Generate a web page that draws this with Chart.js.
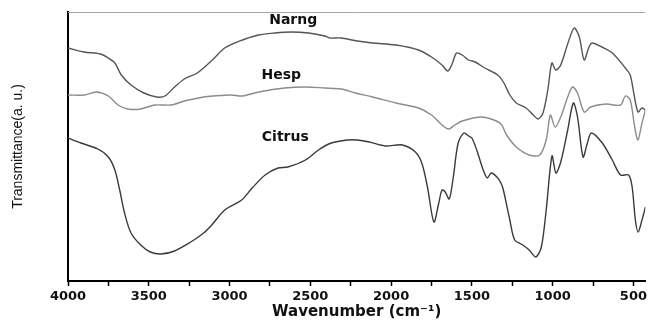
<!DOCTYPE html>
<html>
<head>
<meta charset="utf-8">
<script src="https://cdn.jsdelivr.net/npm/chart.js@4/dist/chart.umd.min.js"></script>
<style>
	html, body { margin: 0; padding: 0; background: #fff; }
	#wrap { width: 650px; height: 322px; position: relative; }
</style>
</head>
<body>
<div id="wrap"><canvas id="chart"></canvas></div>
<script>
// wavenumber (cm-1) and transmittance (a.u.)
const narngWn = [4000, 3900, 3800, 3750, 3710, 3670, 3610, 3530, 3450, 3400, 3340, 3280, 3200, 3100, 3030, 2920, 2820, 2720, 2620, 2510, 2410, 2380, 2310, 2210, 2115, 1970, 1830, 1750, 1685, 1650, 1625, 1595, 1560, 1520, 1480, 1420, 1340, 1305, 1265, 1225, 1165, 1120, 1090, 1060, 1030, 1005, 980, 950, 905, 867, 835, 805, 775, 755, 695, 630, 550, 520, 498, 472, 447, 426];
const narngT = [233, 229, 227, 223, 218, 206, 196, 188, 184, 185, 194, 202, 208, 222, 233, 241, 246, 248, 249, 248, 245, 243, 243, 240, 238, 236, 231, 224, 216, 210, 216, 228, 226, 221, 219, 213, 206, 199, 186, 178, 173, 166, 162, 168, 191, 218, 211, 216, 238, 253, 244, 221, 234, 238, 234, 228, 213, 206, 188, 169, 173, 171];

const hespWn = [4000, 3900, 3825, 3750, 3690, 3630, 3550, 3465, 3360, 3280, 3160, 3100, 2990, 2920, 2820, 2660, 2530, 2410, 2310, 2220, 2115, 1970, 1830, 1750, 1685, 1645, 1605, 1560, 1450, 1380, 1320, 1285, 1225, 1145, 1080, 1040, 1014, 985, 950, 907, 877, 846, 805, 765, 670, 580, 550, 520, 492, 472, 447, 426];
const hespT = [186, 186, 189, 185, 176, 172, 172, 176, 176, 180, 184, 185, 186, 185, 189, 193, 194, 193, 192, 188, 184, 178, 173, 166, 156, 152, 156, 160, 164, 162, 157, 146, 134, 126, 126, 141, 166, 154, 164, 184, 194, 188, 169, 174, 177, 176, 185, 181, 154, 141, 158, 171];

const citrusWn = [4000, 3920, 3815, 3750, 3710, 3680, 3650, 3610, 3550, 3490, 3425, 3340, 3240, 3160, 3110, 3030, 2925, 2860, 2780, 2700, 2640, 2530, 2450, 2370, 2270, 2210, 2135, 2035, 1930, 1850, 1810, 1775, 1735, 1705, 1685, 1665, 1640, 1615, 1585, 1550, 1520, 1500, 1470, 1430, 1405, 1380, 1345, 1320, 1305, 1265, 1235, 1185, 1145, 1105, 1070, 1040, 1004, 980, 950, 907, 872, 846, 812, 785, 760, 693, 631, 580, 530, 508, 488, 471, 447, 426];
const citrusT = [143, 138, 132, 124, 111, 91, 68, 48, 36, 29, 27, 30, 39, 48, 56, 71, 81, 93, 106, 113, 114, 121, 131, 138, 141, 141, 139, 135, 136, 129, 118, 94, 59, 78, 91, 89, 82, 104, 138, 148, 145, 143, 131, 111, 103, 108, 104, 98, 91, 61, 41, 36, 31, 24, 34, 71, 125, 108, 119, 151, 178, 164, 124, 138, 148, 138, 121, 106, 106, 94, 61, 49, 61, 74];

const tickValues = [4000, 3750, 3500, 3250, 3000, 2750, 2500, 2250, 2000, 1750, 1500, 1250, 1000, 750, 500];

// series names written next to the curves
const labelNames = ["Narng", "Hesp", "Citrus"];
const labelWn = [2606, 2680, 2655];
const labelT = [261, 206, 144];

function toPoints(wn, t) {
	return wn.map((w, i) => ({x: w, y: t[i]}));
}

const curveLabels = {
	id: "curveLabels",
	afterDatasetsDraw(chart) {
		const {ctx, chartArea, scales: {x, y}} = chart;
		ctx.save();
		// top frame line
		ctx.strokeStyle = "#a8a8a8";
		ctx.lineWidth = 1;
		ctx.beginPath();
		ctx.moveTo(chartArea.left, chartArea.top + 0.5);
		ctx.lineTo(chartArea.right, chartArea.top + 0.5);
		ctx.stroke();
		ctx.fillStyle = "#111";
		ctx.font = "bold 14px 'DejaVu Sans'";
		ctx.textAlign = "center";
		ctx.textBaseline = "middle";
		labelNames.forEach((name, i) => {
			ctx.fillText(name, x.getPixelForValue(labelWn[i]), y.getPixelForValue(labelT[i]));
		});
		ctx.restore();
	}
};

const lineStyle = {
	pointRadius: 0,
	borderWidth: 1.4,
	tension: 0.3,
	fill: false
};

new Chart(document.getElementById("chart"), {
	type: "line",
	data: {
		datasets: [
			{label: "Narng", data: toPoints(narngWn, narngT), borderColor: "#555555", ...lineStyle},
			{label: "Hesp", data: toPoints(hespWn, hespT), borderColor: "#8c8c8c", ...lineStyle},
			{label: "Citrus", data: toPoints(citrusWn, citrusT), borderColor: "#3a3a3a", ...lineStyle}
		]
	},
	options: {
		responsive: true,
		maintainAspectRatio: false,
		animation: false,
		layout: {padding: {top: 12, left: 0, right: 0, bottom: 0}},
		plugins: {legend: {display: false}, tooltip: {enabled: false}},
		scales: {
			x: {
				type: "linear",
				reverse: true,
				min: 426,
				max: 4000,
				afterBuildTicks: (scale) => { scale.ticks = tickValues.map(v => ({value: v})); },
				afterFit: (scale) => { scale.height = 41; },
				border: {color: "#000", width: 2},
				grid: {drawOnChartArea: false, drawTicks: true, tickLength: 5, tickColor: "#000", tickWidth: 1.5},
				ticks: {
					color: "#111",
					padding: 3,
					maxRotation: 0,
					autoSkip: false,
					font: {family: "'DejaVu Sans'", size: 13, weight: "bold"},
					callback: (v) => (v % 500 === 0 ? String(v) : "")
				},
				title: {
					display: true,
					text: "Wavenumber (cm\u207B\u00B9)",
					color: "#111",
					font: {family: "'DejaVu Sans'", size: 15, weight: "bold"},
					padding: {top: 0, bottom: 1}
				}
			},
			y: {
				min: 0,
				max: 269,
				afterFit: (scale) => { scale.width = 68; },
				border: {color: "#000", width: 2},
				grid: {display: false},
				ticks: {display: false},
				title: {
					display: true,
					text: "Transmittance(a. u.)",
					color: "#111",
					font: {family: "'Liberation Sans Narrow', 'Liberation Sans'", size: 14},
					padding: {top: 10, bottom: 0}
				}
			}
		}
	},
	plugins: [curveLabels]
});
</script>
</body>
</html>
